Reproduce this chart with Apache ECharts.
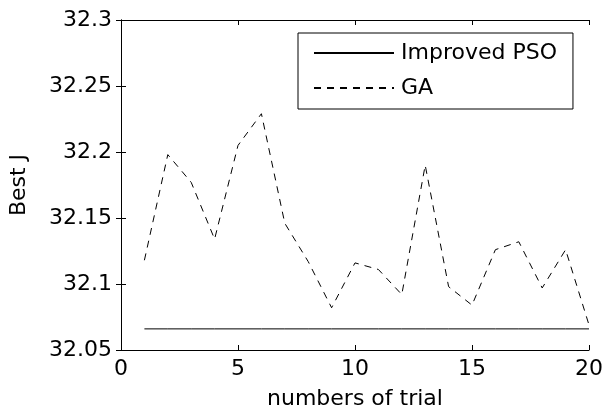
<!DOCTYPE html>
<html>
<head>
<meta charset="utf-8">
<script src="https://cdn.jsdelivr.net/npm/echarts@6/dist/echarts.min.js"></script>
<style>
html,body{margin:0;padding:0;background:#fff;}
#c{width:605px;height:410px;}
</style>
</head>
<body>
<div id="c"></div>
<script>
var trials = [1,2,3,4,5,6,7,8,9,10,11,12,13,14,15,16,17,18,19,20];
var gaValues = [32.118,32.198,32.177,32.134,32.205,32.229,32.146,32.117,32.082,32.116,32.111,32.092,32.190,32.098,32.084,32.126,32.132,32.097,32.126,32.069];
var psoValues = [32.066,32.066,32.066,32.066,32.066,32.066,32.066,32.066,32.066,32.066,32.066,32.066,32.066,32.066,32.066,32.066,32.066,32.066,32.066,32.066];
var seriesNames = ['Improved PSO','GA'];
var xTitle = 'numbers of trial';
var yTitle = 'Best J';

var FONT = 'DejaVu Sans';
function pairs(xs, ys){ return xs.map(function(x,i){ return [x, ys[i]]; }); }

var chart = echarts.init(document.getElementById('c'), null, {renderer:'canvas'});
var axisLine = {show:true, lineStyle:{color:'#000', width:1}};
var tick = {show:true, inside:true, length:5, lineStyle:{color:'#000', width:1}};
chart.setOption({
  animation:false,
  backgroundColor:'#fff',
  grid:{left:121, right:16, top:20, bottom:60, containLabel:false, outerBoundsMode:'none'},
  legend:{
    data:seriesNames,
    orient:'vertical',
    left:298, top:33,
    padding:[9,16,10,15],
    itemGap:13,
    itemWidth:80, itemHeight:14,
    backgroundColor:'#fff',
    borderColor:'#000', borderWidth:1, borderRadius:0,
    itemStyle:{color:'rgba(0,0,0,0)', borderWidth:0, opacity:0},
    textStyle:{fontFamily:FONT, fontSize:22, color:'#000', padding:[0,0,0,2]}
  },
  xAxis:[{
    type:'value', min:0, max:20, interval:5,
    name:xTitle, nameLocation:'middle', nameGap:38,
    nameTextStyle:{fontFamily:FONT, fontSize:22, color:'#000'},
    axisLine:axisLine, axisTick:tick,
    axisLabel:{fontFamily:FONT, fontSize:22, color:'#000', margin:8},
    splitLine:{show:false}
  },{
    type:'value', min:0, max:20, interval:5, position:'top',
    axisLine:axisLine, axisTick:tick, axisLabel:{show:false}, splitLine:{show:false}
  }],
  yAxis:[{
    type:'value', min:32.05, max:32.3, interval:0.05,
    name:yTitle, nameLocation:'middle', nameGap:91, nameRotate:90,
    nameTextStyle:{fontFamily:FONT, fontSize:22, color:'#000'},
    axisLine:axisLine, axisTick:tick,
    axisLabel:{fontFamily:FONT, fontSize:22, color:'#000', margin:9,
      formatter:function(v){ return String(parseFloat(v.toFixed(2))); }},
    splitLine:{show:false}
  },{
    type:'value', min:32.05, max:32.3, interval:0.05, position:'right',
    axisLine:axisLine, axisTick:tick, axisLabel:{show:false}, splitLine:{show:false}
  }],
  series:[{
    name:seriesNames[0], type:'line', data:pairs(trials, psoValues),
    symbol:'none', showSymbol:false, lineStyle:{color:'#000', width:1, type:'solid'}, itemStyle:{color:'#000'}
  },{
    name:seriesNames[1], type:'line', data:pairs(trials, gaValues),
    symbol:'none', showSymbol:false, lineStyle:{color:'#000', width:1, type:[7,6]}, itemStyle:{color:'#000'}
  }]
});
</script>
</body>
</html>
